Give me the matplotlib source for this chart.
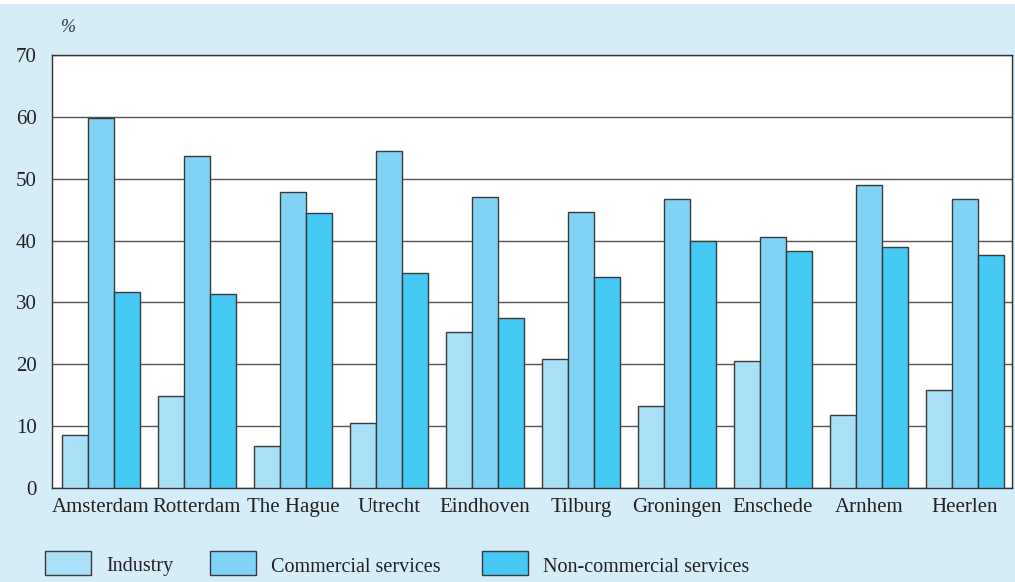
import matplotlib.pyplot as plt
import numpy as np
from matplotlib.patches import Rectangle

# data
cities = ['Amsterdam', 'Rotterdam', 'The Hague', 'Utrecht', 'Eindhoven',
          'Tilburg', 'Groningen', 'Enschede', 'Arnhem', 'Heerlen']
industry = [8.6, 14.9, 6.8, 10.5, 25.2, 20.9, 13.3, 20.5, 11.8, 15.8]
commercial = [59.8, 53.7, 47.9, 54.5, 47.0, 44.6, 46.7, 40.6, 49.0, 46.7]
noncommercial = [31.7, 31.4, 44.5, 34.8, 27.5, 34.1, 39.9, 38.3, 39.0, 37.7]
series_names = ['Industry', 'Commercial services', 'Non-commercial services']
yticks = [0, 10, 20, 30, 40, 50, 60, 70]

bg = '#d4edf9'
colors = ['#a9e0f8', '#80d3f5', '#45c9f4']
edge = '#3a3a3a'

plt.rcParams['font.family'] = ['Liberation Serif', 'DejaVu Serif']

fig = plt.figure(figsize=(10.15, 5.82), dpi=100, facecolor=bg)
ax = fig.add_axes([52 / 1015, 1 - 488 / 582, 960 / 1015, 433 / 582])
ax.set_facecolor('white')

x = np.arange(len(cities))
w = 0.27
for i, (vals, c) in enumerate(zip([industry, commercial, noncommercial], colors)):
    ax.bar(x + (i - 1) * w, vals, width=w, color=c, edgecolor=edge,
           linewidth=1.0, zorder=3)

ax.set_xlim(-0.51, 9.49)
ax.set_ylim(0, 70)
ax.set_yticks(yticks)
ax.yaxis.grid(True, color='#555555', linewidth=1.0, zorder=0)
ax.set_axisbelow(True)
ax.tick_params(axis='both', length=0, labelsize=15, colors='#222222')
ax.tick_params(axis='y', pad=11)
ax.tick_params(axis='x', pad=7)
ax.set_xticks(x)
ax.set_xticklabels(cities)
for s in ax.spines.values():
    s.set_color('#333333')
    s.set_linewidth(1.0)

fig.text(61 / 1015, 1 - 27 / 582, '%', fontsize=13, style='italic',
         color='#333333', va='center')

# white strip at the very top (cut-off page text)
fig.patches.append(Rectangle((0, 1 - 3 / 582), 1, 3 / 582,
                             transform=fig.transFigure, color='white'))

# legend drawn by hand
lx = [45, 210, 482]
for px, name, c in zip(lx, series_names, colors):
    fig.patches.append(Rectangle((px / 1015, 1 - 575 / 582), 46 / 1015, 24 / 582,
                                 transform=fig.transFigure, facecolor=c,
                                 edgecolor=edge, linewidth=1.0))
    fig.text((px + 61) / 1015, 1 - 567 / 582, name, fontsize=14.5,
             color='#222222', va='center')

fig.savefig('out.png', dpi=100, facecolor=bg)
